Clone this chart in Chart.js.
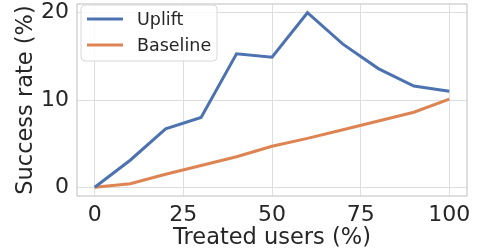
<!DOCTYPE html>
<html lang="en">
<head>
    <meta charset="UTF-8">
    <title>Success rate vs treated users</title>
    <script src="https://cdn.jsdelivr.net/npm/chart.js"></script>
    <style>
        html, body { margin: 0; padding: 0; background: #ffffff; }
        #chart { display: block; }
    </style>
</head>
<body>
    <canvas id="chart" width="484" height="252"></canvas>

    <script>
        // data
        const treated = [0, 10, 20, 30, 40, 50, 60, 70, 80, 90, 100];
        const uplift = [0, 3.1, 6.7, 8.0, 15.3, 14.9, 20.0, 16.4, 13.6, 11.6, 11.0];
        const baseline = [0, 0.4, 1.5, 2.5, 3.5, 4.7, 5.6, 6.6, 7.6, 8.6, 10.1];
        const xTicks = [0, 25, 50, 75, 100];
        const yTicks = [0, 10, 20];

        const textColor = '#262626';
        const gridColor = '#dedede';
        const font = 'DejaVu Sans';

        const toPoints = (ys) => treated.map((x, i) => ({ x: x, y: ys[i] }));

        // frame around the plot area (all four spines)
        const framePlugin = {
            id: 'frame',
            afterDatasetsDraw(chart) {
                const a = chart.chartArea;
                const ctx = chart.ctx;
                ctx.save();
                ctx.strokeStyle = '#d4d4d4';
                ctx.lineWidth = 1.5;
                ctx.strokeRect(a.left, a.top, a.right - a.left, a.bottom - a.top);
                ctx.restore();
            }
        };

        // legend box in the upper left corner, like matplotlib's
        const legendPlugin = {
            id: 'boxLegend',
            afterDraw(chart) {
                const ctx = chart.ctx;
                const a = chart.chartArea;
                const x0 = a.left + 4, y0 = a.top + 1, w = 136, h = 56, r = 4;
                ctx.save();
                ctx.beginPath();
                ctx.roundRect(x0, y0, w, h, r);
                ctx.fillStyle = 'rgba(255,255,255,0.85)';
                ctx.fill();
                ctx.strokeStyle = '#d8d8d8';
                ctx.lineWidth = 1;
                ctx.stroke();
                ctx.font = '17.5px "' + font + '"';
                ctx.textBaseline = 'middle';
                ctx.fillStyle = textColor;
                chart.data.datasets.forEach((ds, i) => {
                    const y = y0 + 14 + i * 26;
                    ctx.beginPath();
                    ctx.moveTo(x0 + 6, y);
                    ctx.lineTo(x0 + 42, y);
                    ctx.strokeStyle = ds.borderColor;
                    ctx.lineWidth = 3;
                    ctx.stroke();
                    ctx.fillText(ds.label, x0 + 56, y + 1);
                });
                ctx.restore();
            }
        };

        new Chart(document.getElementById('chart'), {
            type: 'line',
            data: {
                datasets: [
                    {
                        label: 'Uplift',
                        data: toPoints(uplift),
                        borderColor: '#4C72B0',
                        borderWidth: 3,
                        pointRadius: 0,
                        tension: 0
                    },
                    {
                        label: 'Baseline',
                        data: toPoints(baseline),
                        borderColor: '#DD8452',
                        borderWidth: 3,
                        pointRadius: 0,
                        tension: 0
                    }
                ]
            },
            options: {
                responsive: false,
                animation: false,
                devicePixelRatio: 1,
                layout: { padding: { top: 4, right: 17, left: 0, bottom: 0 } },
                plugins: {
                    legend: { display: false },
                    tooltip: { enabled: false }
                },
                scales: {
                    x: {
                        type: 'linear',
                        min: -5,
                        max: 105,
                        afterBuildTicks: (scale) => { scale.ticks = xTicks.map(v => ({ value: v })); },
                        afterFit: (scale) => {
                            scale.height = 56;
                            scale.paddingLeft = 0;
                            scale.paddingRight = 0;
                        },
                        border: { display: false },
                        grid: { color: gridColor, lineWidth: 1, drawTicks: false },
                        ticks: {
                            color: textColor,
                            font: { family: font, size: 22 },
                            padding: 6,
                            maxRotation: 0
                        },
                        title: {
                            display: true,
                            text: 'Treated users (%)',
                            color: textColor,
                            font: { family: font, size: 22.5 },
                            padding: { top: 0, bottom: 0 }
                        }
                    },
                    y: {
                        type: 'linear',
                        min: -1,
                        max: 21,
                        afterBuildTicks: (scale) => { scale.ticks = yTicks.map(v => ({ value: v })); },
                        afterFit: (scale) => {
                            scale.width = 77;
                            scale.paddingTop = 0;
                            scale.paddingBottom = 0;
                        },
                        border: { display: false },
                        grid: { color: gridColor, lineWidth: 1, drawTicks: false },
                        ticks: {
                            color: textColor,
                            font: { family: font, size: 22 },
                            padding: 8
                        },
                        title: {
                            display: true,
                            text: 'Success rate (%)',
                            color: textColor,
                            font: { family: font, size: 22.5 },
                            padding: { top: 13, bottom: 0 }
                        }
                    }
                }
            },
            plugins: [framePlugin, legendPlugin]
        });
    </script>
</body>
</html>
